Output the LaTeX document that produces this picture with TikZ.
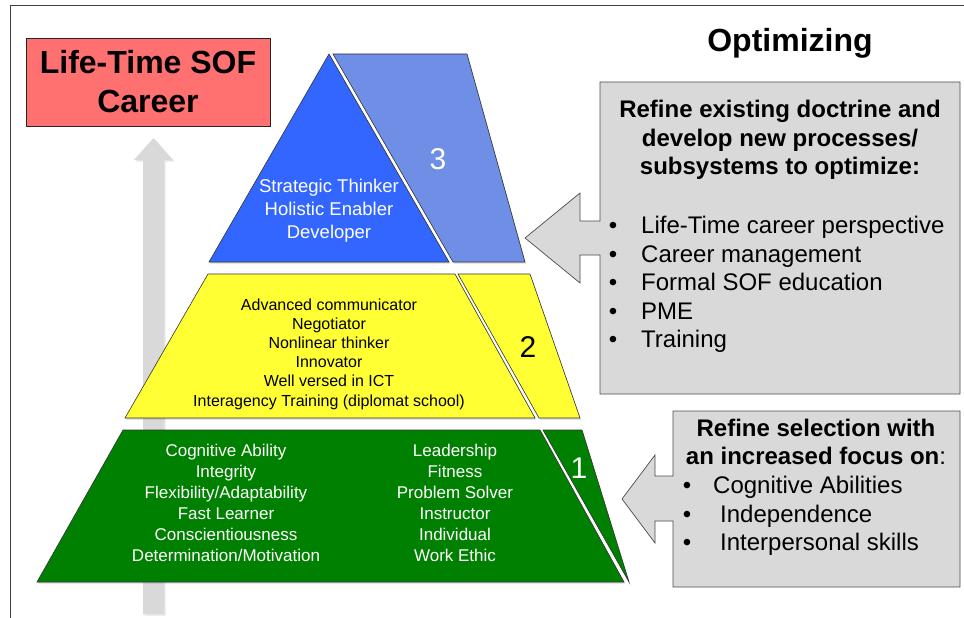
\documentclass[tikz,border=0pt]{standalone}
\usepackage{fontspec}
\setmainfont{Liberation Sans}
\usepackage{tikz}
\usetikzlibrary{shadows}
\usetikzlibrary{calc}

\definecolor{pinkbox}{RGB}{255,112,112}
\definecolor{tierblue}{RGB}{51,102,255}
\definecolor{sideblue}{RGB}{111,143,230}
\definecolor{tieryellow}{RGB}{255,255,51}
\definecolor{tiergreen}{RGB}{0,128,0}
\definecolor{callgray}{RGB}{217,217,217}

\newcommand{\fs}[2]{\fontsize{#1}{#2}\selectfont}

\begin{document}
\begin{tikzpicture}[x=1pt, y=-1pt, every node/.style={inner sep=0pt},
tier/.style={draw=black!80, line width=.6pt,
  drop shadow={shadow xshift=1pt, shadow yshift=-1.5pt, opacity=.3}},
callout/.style={fill=callgray, draw=black!70, line width=.7pt}]
\useasboundingbox (0,0) rectangle (964,618);
\draw[black!75, line width=.8pt] (10,618) -- (10,5) -- (964,5);

% career arrow
\fill[callgray, drop shadow={shadow xshift=1.5pt, shadow yshift=-1.5pt, opacity=.2}]
  (143,614) -- (143,160) -- (134,160) -- (153.5,138) -- (173,160)
  -- (164,160) -- (164,614) -- cycle;
\node[draw=black!85, line width=.8pt, fill=pinkbox, minimum width=244pt,
  minimum height=88pt, align=center, font=\bfseries\fs{32}{39}] (career)
  at (148,82) {Life-Time SOF\\Career};
\node[font=\bfseries\fs{32}{38}] (title) at (790,43) {Optimizing};

% pyramid
\path[tier, fill=tierblue] (329,54) -- (449,262) -- (209,262) -- cycle;
\path[tier, fill=sideblue] (333,54) -- (467,54) -- (525,262) -- (453,262) -- cycle;
\path[tier, fill=tieryellow] (208,274) -- (455,274) -- (535,418) -- (125,418) -- cycle;
\path[tier, fill=tieryellow] (458,274) -- (530,274) -- (580,418) -- (539,418) -- cycle;
\path[tier, fill=tiergreen] (123,430) -- (540,430) -- (624,582) -- (37,582) -- cycle;
\path[tier, fill=tiergreen] (543,430) -- (582,430) -- (629,582) -- cycle;

\node[white, align=center, font=\fs{18.5}{23}] (lvlthree) at (329,211)
  {Strategic Thinker\\Holistic Enabler\\Developer};
\node[align=center, font=\fs{16}{19.2}] (lvltwo) at (329,354)
  {Advanced communicator\\Negotiator\\Nonlinear thinker\\Innovator\\
   Well versed in ICT\\Interagency Training (diplomat school)};
\node[white, align=center, font=\fs{17}{21}] (lvlonea) at (226,503)
  {Cognitive Ability\\Integrity\\Flexibility/Adaptability\\Fast Learner\\
   Conscientiousness\\Determination/Motivation};
\node[white, align=center, font=\fs{17}{21}] (lvloneb) at (455,503)
  {Leadership\\Fitness\\Problem Solver\\Instructor\\Individual\\Work Ethic};
\node[white, font=\fs{30}{36}] (nthree) at (438,159) {3};
\node[font=\fs{30}{36}] (ntwo) at (528,347) {2};
\node[white, font=\fs{30}{36}] (none) at (579,468) {1};

% callouts
\path[callout] (600,82) -- (960,82) -- (960,394) -- (600,394) -- (600,255)
  -- (580,255) -- (580,283) -- (525,238) -- (580,193) -- (580,221)
  -- (600,221) -- cycle;
\path[callout] (673,411) -- (960,411) -- (960,587) -- (673,587) -- (673,521)
  -- (655,521) -- (655,543) -- (622,499) -- (655,455) -- (655,476)
  -- (673,476) -- cycle;

\node[align=center, font=\bfseries\fs{24}{28.5}] (doctrine) at (780,140)
  {Refine existing doctrine and\\develop new processes/\\subsystems to optimize:};
\foreach \txt [count=\i] in {Life-Time career perspective, Career management,
  Formal SOF education, PME, Training}{
  \node[anchor=base, font=\fs{24}{28}] (dot\i) at (613,205.1+28.5*\i) {\textbullet};
  \node[anchor=base west, font=\fs{24}{28}] (opt\i) at (641,205.1+28.5*\i) {\txt};}

\node[align=center, font=\bfseries\fs{24}{28.5}] (select) at (816,442)
  {Refine selection with\\an increased focus on{\mdseries :}};
\foreach \txt/\x [count=\i] in {Cognitive Abilities/713, Independence/720,
  Interpersonal skills/720}{
  \node[anchor=base, font=\fs{24}{28}] (sdot\i) at (687,465.1+28.5*\i) {\textbullet};
  \node[anchor=base west, font=\fs{24}{28}] (sel\i) at (\x,465.1+28.5*\i) {\txt};}
\end{tikzpicture}
\end{document}
